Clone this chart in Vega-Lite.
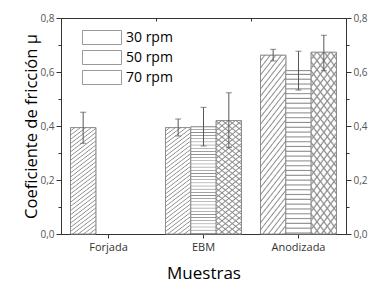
{
"$schema":"https://vega.github.io/schema/vega-lite/v6.json",
"autosize":"none","width":285,"height":216,
"padding":{"left":61,"top":18,"right":28,"bottom":48},
"background":"white",
"config":{"font":"Open Sans","view":{"stroke":"#333","strokeWidth":1},
 "axis":{"labelFont":"Open Sans","titleFont":"Open Sans","domainColor":"#333","tickColor":"#333","grid":false,"titleFontWeight":"normal","titleColor":"#000"}},
"data":{"values":[
 {"muestra":"Forjada","rpm":"30 rpm","mu":0.394,"lo":0.336,"hi":0.451},
 {"muestra":"EBM","rpm":"30 rpm","mu":0.394,"lo":0.363,"hi":0.426},
 {"muestra":"EBM","rpm":"50 rpm","mu":0.397,"lo":0.326,"hi":0.469},
 {"muestra":"EBM","rpm":"70 rpm","mu":0.420,"lo":0.320,"hi":0.523},
 {"muestra":"Anodizada","rpm":"30 rpm","mu":0.662,"lo":0.641,"hi":0.684},
 {"muestra":"Anodizada","rpm":"50 rpm","mu":0.605,"lo":0.533,"hi":0.677},
 {"muestra":"Anodizada","rpm":"70 rpm","mu":0.673,"lo":0.605,"hi":0.736}
]},
"encoding":{
 "x":{"field":"muestra","type":"nominal","sort":["Forjada","EBM","Anodizada"],"scale":{"paddingInner":0.2,"paddingOuter":0.1},"axis":null},
 "xOffset":{"field":"rpm","type":"nominal","scale":{"domain":["30 rpm","50 rpm","70 rpm"],"paddingInner":0,"paddingOuter":0}},
 "y":{"field":"mu","type":"quantitative","scale":{"domain":[0,0.8],"nice":false},"axis":null}
},
"layer":[
 {"mark":{"type":"bar","fill":"#fff","strokeWidth":0.8},
  "encoding":{
   "x":{"field":"muestra","type":"nominal","sort":["Forjada","EBM","Anodizada"],
    "axis":{"title":"Muestras","titleFontSize":17,"titlePadding":13,"labelFontSize":11,"labelColor":"#333","labelAngle":0,"tickSize":4,"labelPadding":3}},
   "y":{"field":"mu","type":"quantitative",
    "axis":{"values":[0,0.1,0.2,0.3,0.4,0.5,0.6,0.7,0.8],"labelExpr":"round(datum.value*10)%2==0 ? replace(format(datum.value,'.1f'),'.',',') : ''","labelFlush":false,"labelFontSize":10,"labelColor":"#555","tickSize":{"condition":{"test":"round(datum.value*10)%2==1","value":3},"value":5},"labelPadding":2,"title":"Coeficiente de fricción μ","titleFontSize":16.5,"titlePadding":0}},
   "stroke":{"field":"rpm","type":"nominal","scale":{"domain":["30 rpm","50 rpm","70 rpm"],"range":["#808080","#808080","#808080"]},
    "legend":{"orient":"none","legendX":33.5,"legendY":12,"title":null,"padding":0,"direction":"vertical","symbolType":"M-2.79,-1L2.79,-1L2.79,1L-2.79,1Z","symbolSize":196,"symbolStrokeWidth":0.8,"symbolOpacity":1,"labelFontSize":14,"labelFont":"Open Sans","labelColor":"#000","labelOffset":16.5,"rowPadding":1,
     "encode":{"symbols":{"update":{"opacity":{"value":1},"strokeWidth":{"value":0.8},"fill":{"condition":[
      {"test":"datum.value === '30 rpm'","value":{"gradient":"linear","x1":0,"y1":0,"x2":1.204,"y2":0.432,"stops":[{"offset":0,"color":"#fff"},{"offset":0.0458,"color":"#fff"},{"offset":0.0667,"color":"#8c8c8c"},{"offset":0.0833,"color":"#fff"},{"offset":0.1291,"color":"#fff"},{"offset":0.15,"color":"#8c8c8c"},{"offset":0.1667,"color":"#fff"},{"offset":0.2125,"color":"#fff"},{"offset":0.2334,"color":"#8c8c8c"},{"offset":0.25,"color":"#fff"},{"offset":0.2958,"color":"#fff"},{"offset":0.3167,"color":"#8c8c8c"},{"offset":0.3333,"color":"#fff"},{"offset":0.3791,"color":"#fff"},{"offset":0.4,"color":"#8c8c8c"},{"offset":0.4167,"color":"#fff"},{"offset":0.4625,"color":"#fff"},{"offset":0.4834,"color":"#8c8c8c"},{"offset":0.5,"color":"#fff"},{"offset":0.5458,"color":"#fff"},{"offset":0.5667,"color":"#8c8c8c"},{"offset":0.5833,"color":"#fff"},{"offset":0.6291,"color":"#fff"},{"offset":0.65,"color":"#8c8c8c"},{"offset":0.6667,"color":"#fff"},{"offset":0.7125,"color":"#fff"},{"offset":0.7334,"color":"#8c8c8c"},{"offset":0.75,"color":"#fff"},{"offset":0.7958,"color":"#fff"},{"offset":0.8167,"color":"#8c8c8c"},{"offset":0.8333,"color":"#fff"},{"offset":0.8791,"color":"#fff"},{"offset":0.9,"color":"#8c8c8c"},{"offset":0.9167,"color":"#fff"},{"offset":0.9625,"color":"#fff"},{"offset":0.9834,"color":"#8c8c8c"},{"offset":1,"color":"#fff"}]}},
      {"test":"datum.value === '50 rpm'","value":{"gradient":"linear","x1":0,"y1":0,"x2":0,"y2":1,"stops":[{"offset":0,"color":"#fff"},{"offset":0.1375,"color":"#fff"},{"offset":0.2,"color":"#8c8c8c"},{"offset":0.25,"color":"#fff"},{"offset":0.3875,"color":"#fff"},{"offset":0.45,"color":"#8c8c8c"},{"offset":0.5,"color":"#fff"},{"offset":0.6375,"color":"#fff"},{"offset":0.7,"color":"#8c8c8c"},{"offset":0.75,"color":"#fff"},{"offset":0.8875,"color":"#fff"},{"offset":0.95,"color":"#8c8c8c"},{"offset":1,"color":"#fff"}]}}],
      "value":{"gradient":"linear","x1":1,"y1":0,"x2":-0.204,"y2":0.432,"stops":[{"offset":0,"color":"#fff"},{"offset":0.055,"color":"#fff"},{"offset":0.08,"color":"#8c8c8c"},{"offset":0.1,"color":"#fff"},{"offset":0.155,"color":"#fff"},{"offset":0.18,"color":"#8c8c8c"},{"offset":0.2,"color":"#fff"},{"offset":0.255,"color":"#fff"},{"offset":0.28,"color":"#8c8c8c"},{"offset":0.3,"color":"#fff"},{"offset":0.355,"color":"#fff"},{"offset":0.38,"color":"#8c8c8c"},{"offset":0.4,"color":"#fff"},{"offset":0.455,"color":"#fff"},{"offset":0.48,"color":"#8c8c8c"},{"offset":0.5,"color":"#fff"},{"offset":0.555,"color":"#fff"},{"offset":0.58,"color":"#8c8c8c"},{"offset":0.6,"color":"#fff"},{"offset":0.655,"color":"#fff"},{"offset":0.68,"color":"#8c8c8c"},{"offset":0.7,"color":"#fff"},{"offset":0.755,"color":"#fff"},{"offset":0.78,"color":"#8c8c8c"},{"offset":0.8,"color":"#fff"},{"offset":0.855,"color":"#fff"},{"offset":0.88,"color":"#8c8c8c"},{"offset":0.9,"color":"#fff"},{"offset":0.955,"color":"#fff"},{"offset":0.98,"color":"#8c8c8c"},{"offset":1,"color":"#fff"}]}}}}}}}
  }},
 {"mark":{"type":"bar","fill":"rgba(0,0,0,0)","strokeWidth":0},
  "encoding":{
   "stroke":{"field":"rpm","type":"nominal","scale":{"domain":["30 rpm","50 rpm","70 rpm"],"range":["rgba(0,0,0,0)","rgba(0,0,0,0)","rgba(0,0,0,0)"]},
    "legend":{"orient":"none","legendX":33.5,"legendY":12,"title":null,"padding":0,"direction":"vertical","symbolType":"M-2.79,-1L2.79,-1L2.79,1L-2.79,1Z","symbolSize":196,"symbolStrokeWidth":0.8,"symbolOpacity":1,"labelFontSize":14,"labelFont":"Open Sans","labelColor":"rgba(0,0,0,0)","labelOffset":16.5,"rowPadding":1,
     "encode":{"symbols":{"update":{"opacity":{"value":1},"fill":{"condition":[
      {"test":"datum.value === '70 rpm'","value":{"gradient":"linear","x1":0,"y1":0,"x2":1.204,"y2":0.432,"stops":[{"offset":0,"color":"rgba(140,140,140,0)"},{"offset":0.055,"color":"rgba(140,140,140,0)"},{"offset":0.08,"color":"#8c8c8c"},{"offset":0.1,"color":"rgba(140,140,140,0)"},{"offset":0.155,"color":"rgba(140,140,140,0)"},{"offset":0.18,"color":"#8c8c8c"},{"offset":0.2,"color":"rgba(140,140,140,0)"},{"offset":0.255,"color":"rgba(140,140,140,0)"},{"offset":0.28,"color":"#8c8c8c"},{"offset":0.3,"color":"rgba(140,140,140,0)"},{"offset":0.355,"color":"rgba(140,140,140,0)"},{"offset":0.38,"color":"#8c8c8c"},{"offset":0.4,"color":"rgba(140,140,140,0)"},{"offset":0.455,"color":"rgba(140,140,140,0)"},{"offset":0.48,"color":"#8c8c8c"},{"offset":0.5,"color":"rgba(140,140,140,0)"},{"offset":0.555,"color":"rgba(140,140,140,0)"},{"offset":0.58,"color":"#8c8c8c"},{"offset":0.6,"color":"rgba(140,140,140,0)"},{"offset":0.655,"color":"rgba(140,140,140,0)"},{"offset":0.68,"color":"#8c8c8c"},{"offset":0.7,"color":"rgba(140,140,140,0)"},{"offset":0.755,"color":"rgba(140,140,140,0)"},{"offset":0.78,"color":"#8c8c8c"},{"offset":0.8,"color":"rgba(140,140,140,0)"},{"offset":0.855,"color":"rgba(140,140,140,0)"},{"offset":0.88,"color":"#8c8c8c"},{"offset":0.9,"color":"rgba(140,140,140,0)"},{"offset":0.955,"color":"rgba(140,140,140,0)"},{"offset":0.98,"color":"#8c8c8c"},{"offset":1,"color":"rgba(140,140,140,0)"}]}}],
      "value":"rgba(0,0,0,0)"}}}}}}
  }},
 {"transform":[{"filter":"datum.rpm == '30 rpm'"}],
  "mark":{"type":"bar","stroke":"#808080","strokeWidth":0.8,"fill":{"gradient":"linear","x1":0,"y1":0,"x2":0.208,"y2":1.144,"stops":[{"offset":0,"color":"#fff"},{"offset":0.0183,"color":"#fff"},{"offset":0.0267,"color":"#8c8c8c"},{"offset":0.0333,"color":"#fff"},{"offset":0.0516,"color":"#fff"},{"offset":0.06,"color":"#8c8c8c"},{"offset":0.0667,"color":"#fff"},{"offset":0.085,"color":"#fff"},{"offset":0.0934,"color":"#8c8c8c"},{"offset":0.1,"color":"#fff"},{"offset":0.1183,"color":"#fff"},{"offset":0.1267,"color":"#8c8c8c"},{"offset":0.1333,"color":"#fff"},{"offset":0.1516,"color":"#fff"},{"offset":0.16,"color":"#8c8c8c"},{"offset":0.1667,"color":"#fff"},{"offset":0.185,"color":"#fff"},{"offset":0.1934,"color":"#8c8c8c"},{"offset":0.2,"color":"#fff"},{"offset":0.2183,"color":"#fff"},{"offset":0.2267,"color":"#8c8c8c"},{"offset":0.2333,"color":"#fff"},{"offset":0.2516,"color":"#fff"},{"offset":0.26,"color":"#8c8c8c"},{"offset":0.2667,"color":"#fff"},{"offset":0.285,"color":"#fff"},{"offset":0.2934,"color":"#8c8c8c"},{"offset":0.3,"color":"#fff"},{"offset":0.3183,"color":"#fff"},{"offset":0.3267,"color":"#8c8c8c"},{"offset":0.3333,"color":"#fff"},{"offset":0.3516,"color":"#fff"},{"offset":0.36,"color":"#8c8c8c"},{"offset":0.3667,"color":"#fff"},{"offset":0.385,"color":"#fff"},{"offset":0.3934,"color":"#8c8c8c"},{"offset":0.4,"color":"#fff"},{"offset":0.4183,"color":"#fff"},{"offset":0.4267,"color":"#8c8c8c"},{"offset":0.4333,"color":"#fff"},{"offset":0.4516,"color":"#fff"},{"offset":0.46,"color":"#8c8c8c"},{"offset":0.4667,"color":"#fff"},{"offset":0.485,"color":"#fff"},{"offset":0.4934,"color":"#8c8c8c"},{"offset":0.5,"color":"#fff"},{"offset":0.5183,"color":"#fff"},{"offset":0.5267,"color":"#8c8c8c"},{"offset":0.5333,"color":"#fff"},{"offset":0.5516,"color":"#fff"},{"offset":0.56,"color":"#8c8c8c"},{"offset":0.5667,"color":"#fff"},{"offset":0.585,"color":"#fff"},{"offset":0.5934,"color":"#8c8c8c"},{"offset":0.6,"color":"#fff"},{"offset":0.6183,"color":"#fff"},{"offset":0.6267,"color":"#8c8c8c"},{"offset":0.6333,"color":"#fff"},{"offset":0.6516,"color":"#fff"},{"offset":0.66,"color":"#8c8c8c"},{"offset":0.6667,"color":"#fff"},{"offset":0.685,"color":"#fff"},{"offset":0.6934,"color":"#8c8c8c"},{"offset":0.7,"color":"#fff"},{"offset":0.7183,"color":"#fff"},{"offset":0.7267,"color":"#8c8c8c"},{"offset":0.7333,"color":"#fff"},{"offset":0.7516,"color":"#fff"},{"offset":0.76,"color":"#8c8c8c"},{"offset":0.7667,"color":"#fff"},{"offset":0.785,"color":"#fff"},{"offset":0.7934,"color":"#8c8c8c"},{"offset":0.8,"color":"#fff"},{"offset":0.8183,"color":"#fff"},{"offset":0.8267,"color":"#8c8c8c"},{"offset":0.8333,"color":"#fff"},{"offset":0.8516,"color":"#fff"},{"offset":0.86,"color":"#8c8c8c"},{"offset":0.8667,"color":"#fff"},{"offset":0.885,"color":"#fff"},{"offset":0.8934,"color":"#8c8c8c"},{"offset":0.9,"color":"#fff"},{"offset":0.9183,"color":"#fff"},{"offset":0.9267,"color":"#8c8c8c"},{"offset":0.9333,"color":"#fff"},{"offset":0.9516,"color":"#fff"},{"offset":0.96,"color":"#8c8c8c"},{"offset":0.9667,"color":"#fff"},{"offset":0.985,"color":"#fff"},{"offset":0.9934,"color":"#8c8c8c"},{"offset":1,"color":"#fff"}]}},
  "encoding":{}},
 {"transform":[{"filter":"datum.rpm == '50 rpm'"}],
  "mark":{"type":"bar","stroke":"#808080","strokeWidth":0.8,"fill":{"gradient":"linear","x1":0,"y1":0,"x2":0,"y2":1,"stops":[{"offset":0,"color":"#fff"},{"offset":0.0162,"color":"#fff"},{"offset":0.0235,"color":"#8c8c8c"},{"offset":0.0294,"color":"#fff"},{"offset":0.0456,"color":"#fff"},{"offset":0.0529,"color":"#8c8c8c"},{"offset":0.0588,"color":"#fff"},{"offset":0.075,"color":"#fff"},{"offset":0.0823,"color":"#8c8c8c"},{"offset":0.0882,"color":"#fff"},{"offset":0.1044,"color":"#fff"},{"offset":0.1117,"color":"#8c8c8c"},{"offset":0.1176,"color":"#fff"},{"offset":0.1338,"color":"#fff"},{"offset":0.1411,"color":"#8c8c8c"},{"offset":0.1471,"color":"#fff"},{"offset":0.1633,"color":"#fff"},{"offset":0.1706,"color":"#8c8c8c"},{"offset":0.1765,"color":"#fff"},{"offset":0.1927,"color":"#fff"},{"offset":0.2,"color":"#8c8c8c"},{"offset":0.2059,"color":"#fff"},{"offset":0.2221,"color":"#fff"},{"offset":0.2294,"color":"#8c8c8c"},{"offset":0.2353,"color":"#fff"},{"offset":0.2515,"color":"#fff"},{"offset":0.2588,"color":"#8c8c8c"},{"offset":0.2647,"color":"#fff"},{"offset":0.2809,"color":"#fff"},{"offset":0.2882,"color":"#8c8c8c"},{"offset":0.2941,"color":"#fff"},{"offset":0.3103,"color":"#fff"},{"offset":0.3176,"color":"#8c8c8c"},{"offset":0.3235,"color":"#fff"},{"offset":0.3397,"color":"#fff"},{"offset":0.347,"color":"#8c8c8c"},{"offset":0.3529,"color":"#fff"},{"offset":0.3691,"color":"#fff"},{"offset":0.3764,"color":"#8c8c8c"},{"offset":0.3824,"color":"#fff"},{"offset":0.3986,"color":"#fff"},{"offset":0.4059,"color":"#8c8c8c"},{"offset":0.4118,"color":"#fff"},{"offset":0.428,"color":"#fff"},{"offset":0.4353,"color":"#8c8c8c"},{"offset":0.4412,"color":"#fff"},{"offset":0.4574,"color":"#fff"},{"offset":0.4647,"color":"#8c8c8c"},{"offset":0.4706,"color":"#fff"},{"offset":0.4868,"color":"#fff"},{"offset":0.4941,"color":"#8c8c8c"},{"offset":0.5,"color":"#fff"},{"offset":0.5162,"color":"#fff"},{"offset":0.5235,"color":"#8c8c8c"},{"offset":0.5294,"color":"#fff"},{"offset":0.5456,"color":"#fff"},{"offset":0.5529,"color":"#8c8c8c"},{"offset":0.5588,"color":"#fff"},{"offset":0.575,"color":"#fff"},{"offset":0.5823,"color":"#8c8c8c"},{"offset":0.5882,"color":"#fff"},{"offset":0.6044,"color":"#fff"},{"offset":0.6117,"color":"#8c8c8c"},{"offset":0.6176,"color":"#fff"},{"offset":0.6338,"color":"#fff"},{"offset":0.6411,"color":"#8c8c8c"},{"offset":0.6471,"color":"#fff"},{"offset":0.6633,"color":"#fff"},{"offset":0.6706,"color":"#8c8c8c"},{"offset":0.6765,"color":"#fff"},{"offset":0.6927,"color":"#fff"},{"offset":0.7,"color":"#8c8c8c"},{"offset":0.7059,"color":"#fff"},{"offset":0.7221,"color":"#fff"},{"offset":0.7294,"color":"#8c8c8c"},{"offset":0.7353,"color":"#fff"},{"offset":0.7515,"color":"#fff"},{"offset":0.7588,"color":"#8c8c8c"},{"offset":0.7647,"color":"#fff"},{"offset":0.7809,"color":"#fff"},{"offset":0.7882,"color":"#8c8c8c"},{"offset":0.7941,"color":"#fff"},{"offset":0.8103,"color":"#fff"},{"offset":0.8176,"color":"#8c8c8c"},{"offset":0.8235,"color":"#fff"},{"offset":0.8397,"color":"#fff"},{"offset":0.847,"color":"#8c8c8c"},{"offset":0.8529,"color":"#fff"},{"offset":0.8691,"color":"#fff"},{"offset":0.8764,"color":"#8c8c8c"},{"offset":0.8824,"color":"#fff"},{"offset":0.8986,"color":"#fff"},{"offset":0.9059,"color":"#8c8c8c"},{"offset":0.9118,"color":"#fff"},{"offset":0.928,"color":"#fff"},{"offset":0.9353,"color":"#8c8c8c"},{"offset":0.9412,"color":"#fff"},{"offset":0.9574,"color":"#fff"},{"offset":0.9647,"color":"#8c8c8c"},{"offset":0.9706,"color":"#fff"},{"offset":0.9868,"color":"#fff"},{"offset":0.9941,"color":"#8c8c8c"},{"offset":1,"color":"#fff"}]}},
  "encoding":{}},
 {"transform":[{"filter":"datum.rpm == '70 rpm'"}],
  "mark":{"type":"bar","stroke":"#808080","strokeWidth":0.8,"fill":{"gradient":"linear","x1":1,"y1":0,"x2":0.792,"y2":1.144,"stops":[{"offset":0,"color":"#fff"},{"offset":0.0229,"color":"#fff"},{"offset":0.0333,"color":"#8c8c8c"},{"offset":0.0417,"color":"#fff"},{"offset":0.0646,"color":"#fff"},{"offset":0.075,"color":"#8c8c8c"},{"offset":0.0833,"color":"#fff"},{"offset":0.1062,"color":"#fff"},{"offset":0.1166,"color":"#8c8c8c"},{"offset":0.125,"color":"#fff"},{"offset":0.1479,"color":"#fff"},{"offset":0.1583,"color":"#8c8c8c"},{"offset":0.1667,"color":"#fff"},{"offset":0.1896,"color":"#fff"},{"offset":0.2,"color":"#8c8c8c"},{"offset":0.2083,"color":"#fff"},{"offset":0.2312,"color":"#fff"},{"offset":0.2416,"color":"#8c8c8c"},{"offset":0.25,"color":"#fff"},{"offset":0.2729,"color":"#fff"},{"offset":0.2833,"color":"#8c8c8c"},{"offset":0.2917,"color":"#fff"},{"offset":0.3146,"color":"#fff"},{"offset":0.325,"color":"#8c8c8c"},{"offset":0.3333,"color":"#fff"},{"offset":0.3562,"color":"#fff"},{"offset":0.3666,"color":"#8c8c8c"},{"offset":0.375,"color":"#fff"},{"offset":0.3979,"color":"#fff"},{"offset":0.4083,"color":"#8c8c8c"},{"offset":0.4167,"color":"#fff"},{"offset":0.4396,"color":"#fff"},{"offset":0.45,"color":"#8c8c8c"},{"offset":0.4583,"color":"#fff"},{"offset":0.4812,"color":"#fff"},{"offset":0.4916,"color":"#8c8c8c"},{"offset":0.5,"color":"#fff"},{"offset":0.5229,"color":"#fff"},{"offset":0.5333,"color":"#8c8c8c"},{"offset":0.5417,"color":"#fff"},{"offset":0.5646,"color":"#fff"},{"offset":0.575,"color":"#8c8c8c"},{"offset":0.5833,"color":"#fff"},{"offset":0.6062,"color":"#fff"},{"offset":0.6166,"color":"#8c8c8c"},{"offset":0.625,"color":"#fff"},{"offset":0.6479,"color":"#fff"},{"offset":0.6583,"color":"#8c8c8c"},{"offset":0.6667,"color":"#fff"},{"offset":0.6896,"color":"#fff"},{"offset":0.7,"color":"#8c8c8c"},{"offset":0.7083,"color":"#fff"},{"offset":0.7312,"color":"#fff"},{"offset":0.7416,"color":"#8c8c8c"},{"offset":0.75,"color":"#fff"},{"offset":0.7729,"color":"#fff"},{"offset":0.7833,"color":"#8c8c8c"},{"offset":0.7917,"color":"#fff"},{"offset":0.8146,"color":"#fff"},{"offset":0.825,"color":"#8c8c8c"},{"offset":0.8333,"color":"#fff"},{"offset":0.8562,"color":"#fff"},{"offset":0.8666,"color":"#8c8c8c"},{"offset":0.875,"color":"#fff"},{"offset":0.8979,"color":"#fff"},{"offset":0.9083,"color":"#8c8c8c"},{"offset":0.9167,"color":"#fff"},{"offset":0.9396,"color":"#fff"},{"offset":0.95,"color":"#8c8c8c"},{"offset":0.9583,"color":"#fff"},{"offset":0.9812,"color":"#fff"},{"offset":0.9916,"color":"#8c8c8c"},{"offset":1,"color":"#fff"}]}},
  "encoding":{}},
 {"transform":[{"filter":"datum.rpm == '70 rpm'"}],
  "mark":{"type":"bar","strokeWidth":0,"fill":{"gradient":"linear","x1":0,"y1":0,"x2":0.208,"y2":1.144,"stops":[{"offset":0,"color":"rgba(140,140,140,0)"},{"offset":0.0229,"color":"rgba(140,140,140,0)"},{"offset":0.0333,"color":"#8c8c8c"},{"offset":0.0417,"color":"rgba(140,140,140,0)"},{"offset":0.0646,"color":"rgba(140,140,140,0)"},{"offset":0.075,"color":"#8c8c8c"},{"offset":0.0833,"color":"rgba(140,140,140,0)"},{"offset":0.1062,"color":"rgba(140,140,140,0)"},{"offset":0.1166,"color":"#8c8c8c"},{"offset":0.125,"color":"rgba(140,140,140,0)"},{"offset":0.1479,"color":"rgba(140,140,140,0)"},{"offset":0.1583,"color":"#8c8c8c"},{"offset":0.1667,"color":"rgba(140,140,140,0)"},{"offset":0.1896,"color":"rgba(140,140,140,0)"},{"offset":0.2,"color":"#8c8c8c"},{"offset":0.2083,"color":"rgba(140,140,140,0)"},{"offset":0.2312,"color":"rgba(140,140,140,0)"},{"offset":0.2416,"color":"#8c8c8c"},{"offset":0.25,"color":"rgba(140,140,140,0)"},{"offset":0.2729,"color":"rgba(140,140,140,0)"},{"offset":0.2833,"color":"#8c8c8c"},{"offset":0.2917,"color":"rgba(140,140,140,0)"},{"offset":0.3146,"color":"rgba(140,140,140,0)"},{"offset":0.325,"color":"#8c8c8c"},{"offset":0.3333,"color":"rgba(140,140,140,0)"},{"offset":0.3562,"color":"rgba(140,140,140,0)"},{"offset":0.3666,"color":"#8c8c8c"},{"offset":0.375,"color":"rgba(140,140,140,0)"},{"offset":0.3979,"color":"rgba(140,140,140,0)"},{"offset":0.4083,"color":"#8c8c8c"},{"offset":0.4167,"color":"rgba(140,140,140,0)"},{"offset":0.4396,"color":"rgba(140,140,140,0)"},{"offset":0.45,"color":"#8c8c8c"},{"offset":0.4583,"color":"rgba(140,140,140,0)"},{"offset":0.4812,"color":"rgba(140,140,140,0)"},{"offset":0.4916,"color":"#8c8c8c"},{"offset":0.5,"color":"rgba(140,140,140,0)"},{"offset":0.5229,"color":"rgba(140,140,140,0)"},{"offset":0.5333,"color":"#8c8c8c"},{"offset":0.5417,"color":"rgba(140,140,140,0)"},{"offset":0.5646,"color":"rgba(140,140,140,0)"},{"offset":0.575,"color":"#8c8c8c"},{"offset":0.5833,"color":"rgba(140,140,140,0)"},{"offset":0.6062,"color":"rgba(140,140,140,0)"},{"offset":0.6166,"color":"#8c8c8c"},{"offset":0.625,"color":"rgba(140,140,140,0)"},{"offset":0.6479,"color":"rgba(140,140,140,0)"},{"offset":0.6583,"color":"#8c8c8c"},{"offset":0.6667,"color":"rgba(140,140,140,0)"},{"offset":0.6896,"color":"rgba(140,140,140,0)"},{"offset":0.7,"color":"#8c8c8c"},{"offset":0.7083,"color":"rgba(140,140,140,0)"},{"offset":0.7312,"color":"rgba(140,140,140,0)"},{"offset":0.7416,"color":"#8c8c8c"},{"offset":0.75,"color":"rgba(140,140,140,0)"},{"offset":0.7729,"color":"rgba(140,140,140,0)"},{"offset":0.7833,"color":"#8c8c8c"},{"offset":0.7917,"color":"rgba(140,140,140,0)"},{"offset":0.8146,"color":"rgba(140,140,140,0)"},{"offset":0.825,"color":"#8c8c8c"},{"offset":0.8333,"color":"rgba(140,140,140,0)"},{"offset":0.8562,"color":"rgba(140,140,140,0)"},{"offset":0.8666,"color":"#8c8c8c"},{"offset":0.875,"color":"rgba(140,140,140,0)"},{"offset":0.8979,"color":"rgba(140,140,140,0)"},{"offset":0.9083,"color":"#8c8c8c"},{"offset":0.9167,"color":"rgba(140,140,140,0)"},{"offset":0.9396,"color":"rgba(140,140,140,0)"},{"offset":0.95,"color":"#8c8c8c"},{"offset":0.9583,"color":"rgba(140,140,140,0)"},{"offset":0.9812,"color":"rgba(140,140,140,0)"},{"offset":0.9916,"color":"#8c8c8c"},{"offset":1,"color":"rgba(140,140,140,0)"}]}},
  "encoding":{}},
 {"mark":{"type":"rule","color":"#555","strokeWidth":1},
  "encoding":{
   "y":{"field":"lo","type":"quantitative",
    "axis":{"orient":"right","title":null,"values":[0,0.1,0.2,0.3,0.4,0.5,0.6,0.7,0.8],"labelExpr":"round(datum.value*10)%2==0 ? replace(format(datum.value,'.1f'),'.',',') : ''","labelFlush":false,"labelFontSize":10,"labelColor":"#555","tickSize":{"condition":{"test":"round(datum.value*10)%2==1","value":3},"value":5},"labelPadding":2}},
   "y2":{"field":"hi"}}},
 {"mark":{"type":"tick","orient":"horizontal","color":"#555","size":6,"thickness":1},
  "encoding":{
   "x":{"field":"muestra","type":"nominal","sort":["Forjada","EBM","Anodizada"],
    "axis":{"orient":"top","labels":false,"title":null,"tickSize":-3,"bandPosition":-0.125}},
   "y":{"field":"lo","type":"quantitative","axis":null}}},
 {"mark":{"type":"tick","orient":"horizontal","color":"#555","size":6,"thickness":1},
  "encoding":{"y":{"field":"hi","type":"quantitative","axis":null}}}
],
"resolve":{"scale":{"stroke":"independent"},"axis":{"y":"independent","x":"independent"}}
}
